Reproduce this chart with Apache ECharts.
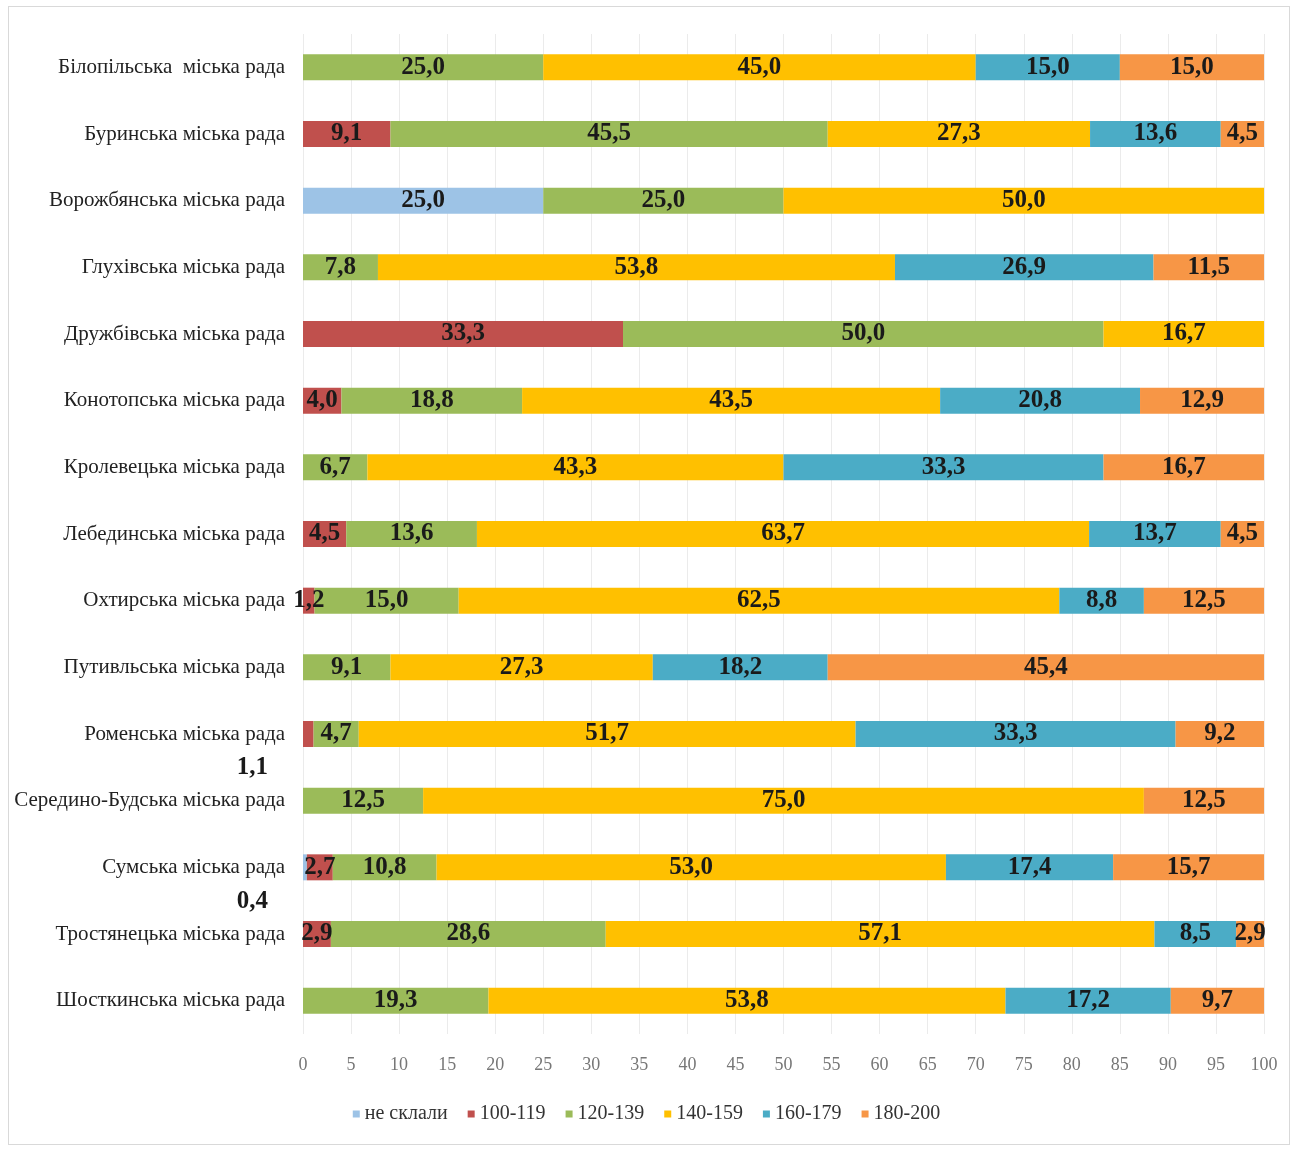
<!DOCTYPE html>
<html>
<head>
<meta charset="utf-8">
<script src="https://cdn.jsdelivr.net/npm/echarts@6/dist/echarts.min.js"></script>
<style>
    html, body { margin: 0; padding: 0; background: #fff; }
    #main { position: absolute; left: 0; top: 0; width: 1293px; height: 1149px; }
    .frame { position: absolute; left: 8px; top: 6px; width: 1280px; height: 1137px; border: 1px solid #d9d9d9; pointer-events: none; }
</style>
</head>
<body>
<div id="main"></div>
<div class="frame"></div>
<script>
// категорії (зверху вниз)
const categories = [
    'Білопільська  міська рада',
    'Буринська міська рада',
    'Ворожбянська міська рада',
    'Глухівська міська рада',
    'Дружбівська міська рада',
    'Конотопська міська рада',
    'Кролевецька міська рада',
    'Лебединська міська рада',
    'Охтирська міська рада',
    'Путивльська міська рада',
    'Роменська міська рада',
    'Середино-Будська міська рада',
    'Сумська міська рада',
    'Тростянецька міська рада',
    'Шосткинська міська рада'
]
const seriesNames = ['не склали', '100-119', '120-139', '140-159', '160-179', '180-200']
const notPassed = [0, 0, 25.0, 0, 0, 0, 0, 0, 0, 0, 0, 0, 0.4, 0, 0]
const g100 = [0, 9.1, 0, 0, 33.3, 4.0, 0, 4.5, 1.2, 0, 1.1, 0, 2.7, 2.9, 0]
const g120 = [25.0, 45.5, 25.0, 7.8, 50.0, 18.8, 6.7, 13.6, 15.0, 9.1, 4.7, 12.5, 10.8, 28.6, 19.3]
const g140 = [45.0, 27.3, 50.0, 53.8, 16.7, 43.5, 43.3, 63.7, 62.5, 27.3, 51.7, 75.0, 53.0, 57.1, 53.8]
const g160 = [15.0, 13.6, 0, 26.9, 0, 20.8, 33.3, 13.7, 8.8, 18.2, 33.3, 0, 17.4, 8.5, 17.2]
const g180 = [15.0, 4.5, 0, 11.5, 0, 12.9, 16.7, 4.5, 12.5, 45.4, 9.2, 12.5, 15.7, 2.9, 9.7]
const xTicks = [0, 5, 10, 15, 20, 25, 30, 35, 40, 45, 50, 55, 60, 65, 70, 75, 80, 85, 90, 95, 100]
const colors = ['#9dc3e6', '#c0504d', '#9bbb59', '#ffc000', '#4bacc6', '#f79646']

// значення, підписані під назвою категорії (не влазять у смугу)
const outsideLabels = { 'не склали': [12], '100-119': [10] }

const fmt = v => v.toFixed(1).replace('.', ',')

;(function () {
    const myChart = echarts.init(document.getElementById('main'))
    const allData = [notPassed, g100, g120, g140, g160, g180]
    const series = allData.map((arr, si) => {
        const name = seriesNames[si]
        const moved = outsideLabels[name] || []
        return {
            name: name,
            type: 'bar',
            stack: 'total',
            barWidth: 26,
            itemStyle: { color: colors[si] },
            label: {
                show: true,
                position: 'inside',
                color: '#1a1a1a',
                fontFamily: 'Liberation Serif',
                fontWeight: 'bold',
                fontSize: 25,
                formatter: p => p.value > 0 ? fmt(p.value) : ''
            },
            data: arr.map((v, i) => {
                if (moved.indexOf(i) < 0) return v
                return {
                    value: v,
                    label: { position: 'left', offset: [-30, 34] }
                }
            })
        }
    })
    const option = {
        color: colors,
        animation: false,
        grid: {
            left: 303,
            right: 29,
            top: 34,
            bottom: 115
        },
        legend: {
            bottom: 20,
            left: 'center',
            itemWidth: 7,
            itemHeight: 7,
            itemGap: 20,
            icon: 'rect',
            textStyle: {
                color: '#333',
                fontFamily: 'Liberation Serif',
                fontSize: 20
            },
            data: seriesNames
        },
        xAxis: {
            type: 'value',
            min: 0,
            max: 100,
            interval: 5,
            axisLine: { show: false },
            axisTick: { show: false },
            axisLabel: {
                color: '#777',
                fontFamily: 'Liberation Serif',
                fontSize: 18,
                margin: 22
            },
            splitLine: {
                lineStyle: { color: '#ebebeb' }
            }
        },
        yAxis: {
            type: 'category',
            inverse: true,
            data: categories,
            axisLine: { show: false },
            axisTick: { show: false },
            axisLabel: {
                color: '#222',
                fontFamily: 'Liberation Serif',
                fontSize: 21,
                margin: 18
            }
        },
        series: series
    }
    myChart.setOption(option)
    window.addEventListener('resize', () => {
        myChart.resize()
    })
})()
</script>
</body>
</html>
